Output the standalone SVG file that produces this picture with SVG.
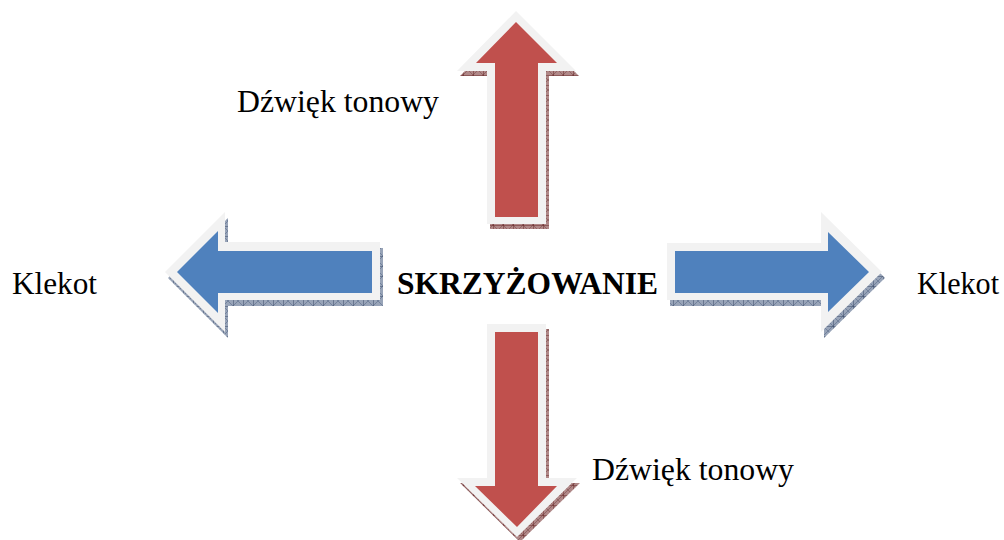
<svg xmlns="http://www.w3.org/2000/svg" width="1004" height="540" viewBox="0 0 1004 540">
<style>
.lbl{font-family:"Liberation Serif","Times New Roman",serif;font-size:31px;fill:#000}
.bold{font-weight:bold}
.border{fill:#f2f2f2}
.red{fill:#c0504d}
.blue{fill:#4f81bd}
.shR{fill:url(#hatchR)}
.shB{fill:url(#hatchB)}
</style>
<defs>
<pattern id="hatchR" width="10" height="10" patternUnits="userSpaceOnUse">
<rect width="10" height="10" fill="#b08888"/>
<path d="M0 0L10 10M10 0L0 10" stroke="#8a5a5a" stroke-width="0.8"/>
<path d="M0 0V10M0 0H10" stroke="#6a2a2a" stroke-width="1"/>
</pattern>
<pattern id="hatchB" width="10" height="10" patternUnits="userSpaceOnUse">
<rect width="10" height="10" fill="#98a4b8"/>
<path d="M0 0L10 10M10 0L0 10" stroke="#6a7a94" stroke-width="0.8"/>
<path d="M0 0V10M0 0H10" stroke="#3a4a68" stroke-width="1"/>
</pattern>
</defs>
<rect width="1004" height="540" fill="#fff"/>

<g id="arrow-up">
<polygon class="shR" transform="translate(3,5)" points="516,11 576,71 546,71 546,224 487,224 487,71 457,71"/>
<polygon class="border" points="516,11 576,71 546,71 546,224 487,224 487,71 457,71"/>
<polygon class="red" points="516,22 557,63 538,63 538,217 495,217 495,63 476,63"/>
</g>

<g id="arrow-left">
<polygon class="shB" transform="translate(3,6)" points="165,272 225,212 225,242 380,242 380,300 225,300 225,332"/>
<polygon class="border" points="165,272 225,212 225,242 380,242 380,300 225,300 225,332"/>
<polygon class="blue" points="177,272 218,231 218,251 372,251 372,293 218,293 218,313"/>
</g>

<g id="arrow-right">
<polygon class="shB" transform="translate(3,6)" points="667,243 821,243 821,212 882,272 821,332 821,300 667,300"/>
<polygon class="border" points="667,243 821,243 821,212 882,272 821,332 821,300 667,300"/>
<polygon class="blue" points="675,251 828,251 828,232 869,272 828,312 828,293 675,293"/>
</g>

<g id="arrow-down">
<polygon class="shR" transform="translate(3,5)" points="487,324 546,324 546,478 577,478 517,537 457,478 487,478"/>
<polygon class="border" points="487,324 546,324 546,478 577,478 517,537 457,478 487,478"/>
<polygon class="red" points="495,332 538,332 538,486 557,486 517,527 475,486 495,486"/>
</g>

<g id="center">
<text class="lbl bold" x="397" y="294" textLength="261" lengthAdjust="spacingAndGlyphs">SKRZYŻOWANIE</text>
</g>
<g id="label-up">
<text class="lbl" x="237" y="112" textLength="202" lengthAdjust="spacingAndGlyphs">Dźwięk tonowy</text>
</g>
<g id="label-down">
<text class="lbl" x="592" y="480" textLength="202" lengthAdjust="spacingAndGlyphs">Dźwięk tonowy</text>
</g>
<g id="label-left">
<text class="lbl" x="12" y="294" textLength="85" lengthAdjust="spacingAndGlyphs">Klekot</text>
</g>
<g id="label-right">
<text class="lbl" x="917" y="294" textLength="82" lengthAdjust="spacingAndGlyphs">Klekot</text>
</g>
</svg>
